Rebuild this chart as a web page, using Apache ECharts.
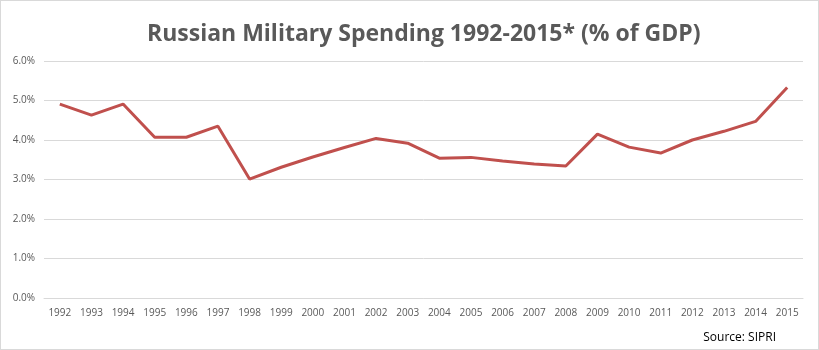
<!DOCTYPE html>
<html>
<head>
<meta charset="utf-8">
<script src="https://cdn.jsdelivr.net/npm/echarts@6/dist/echarts.min.js"></script>
<style>
  html, body { margin: 0; padding: 0; background: #fff; }
  #chart { width: 817px; height: 348px; border: 1px solid #d9d9d9; }
</style>
</head>
<body>
<div id="chart"></div>
<script>
const years = ['1992', '1993', '1994', '1995', '1996', '1997', '1998', '1999', '2000', '2001', '2002', '2003',
  '2004', '2005', '2006', '2007', '2008', '2009', '2010', '2011', '2012', '2013', '2014', '2015'];
const spending = [4.91, 4.63, 4.91, 4.07, 4.07, 4.35, 3.01, 3.31, 3.57, 3.81, 4.04, 3.92,
  3.54, 3.56, 3.47, 3.39, 3.34, 4.15, 3.82, 3.67, 4.00, 4.22, 4.47, 5.33];

const chart = echarts.init(document.getElementById('chart'));

const option = {
  animation: false,
  title: {
    text: 'Russian Military Spending 1992-2015* (% of GDP)',
    left: 141,
    top: 17,
    textStyle: {
      fontFamily: 'Open Sans',
      fontWeight: 'bold',
      fontSize: 23,
      color: '#595959'
    }
  },
  graphic: [{
    type: 'text',
    right: 42,
    bottom: 5,
    style: {
      text: 'Source: SIPRI',
      font: '12px "Open Sans"',
      fill: '#000'
    }
  }],
  grid: { left: 43, right: 15, top: 60, bottom: 51 },
  xAxis: {
    type: 'category',
    data: years,
    axisLine: { lineStyle: { color: '#d9d9d9' } },
    axisTick: { show: false },
    axisLabel: { color: '#595959', fontFamily: 'Open Sans', fontSize: 10, margin: 10, interval: 0 }
  },
  yAxis: {
    type: 'value',
    min: 0,
    max: 6,
    interval: 1,
    axisLabel: {
      color: '#595959',
      fontFamily: 'Open Sans',
      fontSize: 10,
      margin: 9,
      formatter: v => v.toFixed(1) + '%'
    },
    splitLine: { lineStyle: { color: '#d9d9d9' } }
  },
  series: [{
    type: 'line',
    data: spending,
    symbol: 'none',
    lineStyle: { color: '#c0504d', width: 3 }
  }]
};

chart.setOption(option);
</script>
</body>
</html>
